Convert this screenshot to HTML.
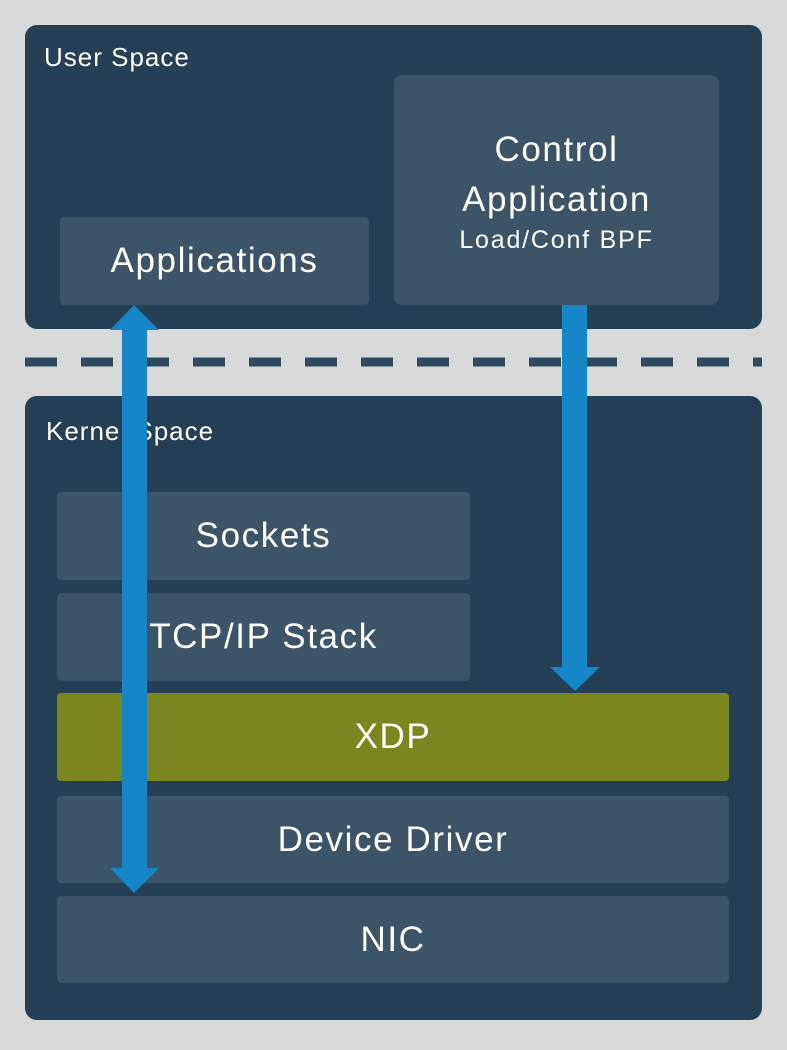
<!DOCTYPE html>
<html><head><meta charset="utf-8"><style>
body{margin:0;width:787px;height:1050px;background:#d9d9d9;position:relative;overflow:hidden;font-family:"Liberation Sans","DejaVu Sans",sans-serif;color:#fff}
.p{position:absolute;background:#243f56;border-radius:12px}
.b{position:absolute;background:#3b5468;border-radius:4px;display:flex;align-items:center;justify-content:center;font-size:35px;letter-spacing:1.6px}
.l{position:absolute;font-size:26px;letter-spacing:1px}
</style></head><body>
<div class="p" style="left:25px;top:25px;width:737px;height:304px"></div>
<div class="p" style="left:25px;top:396px;width:737px;height:624px"></div>
<div class="l" style="left:44px;top:42px">User Space</div>
<div class="l" style="left:46px;top:416px">Kernel Space</div>
<div class="b" style="left:60px;top:217px;width:309px;height:88px">Applications</div>
<div class="b" style="left:394px;top:75px;width:325px;height:230px;border-radius:8px;flex-direction:column;line-height:50px"><div>Control</div><div>Application</div><div style="font-size:25px;line-height:30px;letter-spacing:1.8px">Load/Conf BPF</div></div>
<div class="b" style="left:57px;top:492px;width:413px;height:88px">Sockets</div>
<div class="b" style="left:57px;top:593px;width:413px;height:88px">TCP/IP Stack</div>
<div class="b" style="left:57px;top:693px;width:672px;height:88px;background:#7b871e">XDP</div>
<div class="b" style="left:57px;top:796px;width:672px;height:87px">Device Driver</div>
<div class="b" style="left:57px;top:896px;width:672px;height:87px">NIC</div>
<svg style="position:absolute;left:0;top:0" width="787" height="1050">
<line x1="25" y1="362" x2="762" y2="362" stroke="#2f4a5f" stroke-width="9" stroke-dasharray="32 24"/>
<polygon fill="#1587c8" points="134,305 159,330 147,330 147,868 159,868 134,893 110,868 122,868 122,330 110,330"/>
<polygon fill="#1587c8" points="562,305 587,305 587,667 600,667 575,691 550,667 562,667"/>
</svg>
</body></html>
